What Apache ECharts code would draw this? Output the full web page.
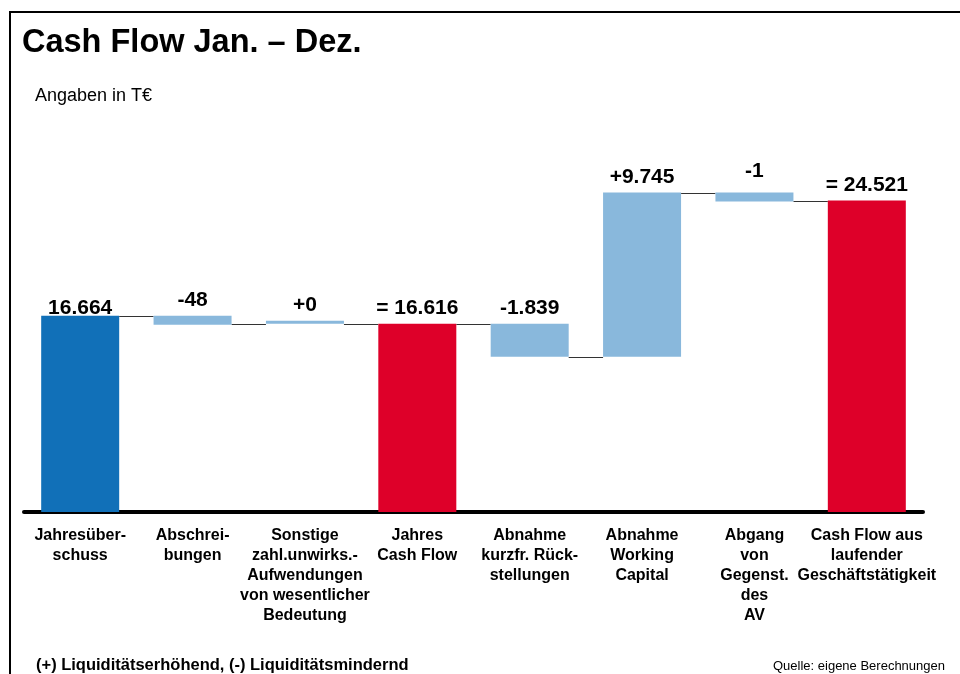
<!DOCTYPE html>
<html>
<head>
<meta charset="utf-8">
<script src="https://cdn.jsdelivr.net/npm/echarts@6/dist/echarts.min.js"></script>
<style>
  html, body { margin: 0; padding: 0; background: #fff; }
  #container { width: 960px; height: 674px; }
</style>
</head>
<body>
<div id="container"></div>
<script>
var myChart = echarts.init(document.getElementById('container'));

// categories (line breaks as in the slide)
var categories = [
  'Jahresüber-\nschuss',
  'Abschrei-\nbungen',
  'Sonstige\nzahl.unwirks.-\nAufwendungen\nvon wesentlicher\nBedeutung',
  'Jahres\nCash Flow',
  'Abnahme\nkurzfr. Rück-\nstellungen',
  'Abnahme\nWorking\nCapital',
  'Abgang\nvon\nGegenst.\ndes\nAV',
  'Cash Flow aus\nlaufender\nGeschäftstätigkeit'
];

// printed values
var valueLabels = ['16.664', '-48', '+0', '= 16.616', '-1.839', '+9.745', '-1', '= 24.521'];

// bar extents as drawn on the slide (not to scale), in T€
var barLow  = [0, 14745, 14824, 0, 12222, 12222, 24444, 0];
var barHigh = [15454, 15454, 15060, 14824, 14824, 25153, 25153, 24521];

// start | dec | inc | total
var barKind = ['start', 'dec', 'inc', 'total', 'dec', 'inc', 'dec', 'total'];

var kindColor = { start: '#1170b8', dec: '#89b8dc', inc: '#89b8dc', total: '#de0029' };
var barW = 78;

var visible = barHigh.map(function (h, i) {
  var item = { value: h - barLow[i], itemStyle: { color: kindColor[barKind[i]] } };
  if (i === 0) item.label = { distance: -3 };
  if (i === 6) item.label = { distance: 11 };
  return item;
});

// connector level = where the next bar starts
var connectors = [];
for (var i = 0; i < categories.length - 1; i++) {
  var nk = barKind[i + 1];
  var lvl = nk === 'inc' ? barLow[i + 1] : barHigh[i + 1];
  connectors.push([i, lvl]);
}

var option = {
  backgroundColor: '#fff',
  animation: false,
  textStyle: { fontFamily: 'Liberation Sans, Arial, sans-serif' },
  title: {
    text: 'Cash Flow Jan. – Dez.',
    left: 17,
    top: 22,
    textStyle: { color: '#000', fontSize: 32.5, fontWeight: 'bold', fontFamily: 'Liberation Sans' }
  },
  grid: { left: 24, right: 37, top: 131, bottom: 162 },
  xAxis: {
    type: 'category',
    data: categories,
    axisTick: { show: false },
    axisLine: { lineStyle: { color: '#000', width: 4 } },
    axisLabel: {
      interval: 0,
      margin: 14,
      color: '#000',
      fontSize: 16,
      fontWeight: 'bold',
      lineHeight: 20,
      fontFamily: 'Liberation Sans'
    }
  },
  yAxis: {
    type: 'value',
    min: 0,
    max: 30000,
    show: false,
    splitLine: { show: false }
  },
  series: [
    {
      type: 'bar',
      stack: 'wf',
      barWidth: barW,
      itemStyle: { color: 'transparent' },
      emphasis: { disabled: true },
      data: barLow
    },
    {
      type: 'bar',
      stack: 'wf',
      barWidth: barW,
      data: visible,
      label: {
        show: true,
        position: 'top',
        color: '#000',
        fontSize: 21,
        fontWeight: 'bold',
        fontFamily: 'Liberation Sans',
        formatter: function (p) { return valueLabels[p.dataIndex]; }
      }
    },
    {
      type: 'custom',
      data: connectors,
      z: 1,
      renderItem: function (params, api) {
        var a = api.coord([api.value(0), api.value(1)]);
        var b = api.coord([api.value(0) + 1, api.value(1)]);
        var y = Math.round(a[1]) + 0.5;
        return {
          type: 'line',
          shape: { x1: a[0] + barW / 2, y1: y, x2: b[0] - barW / 2, y2: y },
          style: { stroke: '#333', lineWidth: 1 }
        };
      }
    }
  ],
  graphic: [
    {
      type: 'polyline',
      shape: { points: [[10, 674], [10, 12], [960, 12]] },
      style: { stroke: '#000', lineWidth: 2, fill: null }
    },
    {
      type: 'text',
      left: 35, top: 87,
      style: { text: 'Angaben in T€', fill: '#000', font: '18px "Liberation Sans"' }
    },
    {
      type: 'text',
      left: 36, top: 657,
      style: { text: '(+) Liquiditätserhöhend, (-) Liquiditätsmindernd', fill: '#000', font: 'bold 16.5px "Liberation Sans"' }
    },
    {
      type: 'text',
      right: 15, top: 660,
      style: { text: 'Quelle: eigene Berechnungen', fill: '#000', font: '13px "Liberation Sans"' }
    }
  ]
};

myChart.setOption(option);
</script>
</body>
</html>
